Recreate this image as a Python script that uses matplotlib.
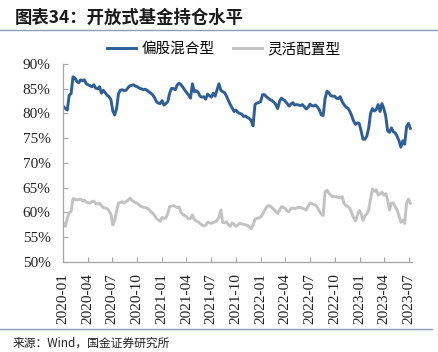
import matplotlib

matplotlib.use("Agg")
import matplotlib.dates as mdates
import matplotlib.pyplot as plt
import pandas as pd
from matplotlib.lines import Line2D
from matplotlib.ticker import FuncFormatter, MultipleLocator

# weekly readings, first Friday of 2020 onwards
START = "2020-01-03"

equity_mixed = [
    81.4, 81.0, 80.7, 83.7, 84.0, 87.4, 87.2, 86.5, 86.2, 86.8,
    86.6, 86.8, 86.0, 85.8, 85.6, 85.4, 85.8, 85.1, 85.0, 85.4,
    84.1, 84.7, 84.2, 83.7, 83.4, 82.8, 80.5, 79.7, 81.0, 84.0,
    84.7, 84.8, 84.6, 84.7, 85.2, 85.6, 85.7, 85.8, 85.5, 85.4,
    85.1, 85.0, 84.8, 84.9, 84.7, 84.4, 84.1, 83.8, 83.2, 82.4,
    82.1, 82.0, 82.6, 81.7, 82.0, 82.4, 84.1, 85.1, 85.0, 84.8,
    85.8, 86.1, 85.8, 85.3, 84.7, 84.2, 83.7, 83.1, 86.0, 84.4,
    84.6, 84.3, 83.5, 83.3, 83.4, 82.9, 83.9, 83.6, 83.3, 84.1,
    83.5, 84.8, 86.0, 84.7, 84.4, 84.2, 83.5, 82.6, 81.8, 81.1,
    80.4, 80.7, 80.2, 80.0, 79.9, 79.4, 79.5, 79.2, 79.0, 78.6,
    77.5, 81.8, 82.1, 82.2, 82.4, 83.8, 83.8, 83.4, 83.1, 82.8,
    82.6, 82.3, 81.8, 81.0, 82.5, 83.1, 82.8, 82.5, 82.0, 81.5,
    81.9, 82.2, 81.7, 81.8, 81.7, 81.6, 81.8, 81.4, 80.9, 81.2,
    81.9, 81.6, 81.5, 81.7, 81.3, 80.7, 79.7, 79.6, 83.0, 84.5,
    84.2, 83.6, 83.5, 83.5, 83.1, 83.0, 83.4, 82.4, 81.8, 81.3,
    81.1, 80.5, 79.6, 78.5, 77.8, 78.1, 78.0, 76.5, 74.8, 74.8,
    75.4, 77.0, 80.0, 81.0, 80.5, 80.8, 81.8, 80.4, 82.0, 81.0,
    79.5, 76.5, 76.2, 77.1, 76.3, 76.1, 75.4, 74.5, 73.2, 74.5,
    73.8, 77.3, 78.0, 77.0,
]

flexible = [
    57.8, 57.2, 58.8, 60.0, 60.2, 62.8, 62.7, 62.5, 62.6, 62.7,
    62.3, 62.5, 62.1, 62.0, 61.9, 62.2, 62.3, 61.8, 61.7, 61.9,
    61.4, 61.0, 60.9, 60.8, 60.4, 59.6, 57.5, 58.4, 60.3, 61.9,
    62.0, 62.2, 61.9, 62.2, 62.5, 62.9, 62.5, 62.2, 62.0, 61.8,
    61.5, 61.2, 61.1, 61.0, 60.9, 60.6, 60.2, 59.9, 59.4, 58.8,
    58.5, 58.2, 59.0, 58.8, 58.9, 59.8, 61.2, 61.3, 61.4, 61.2,
    61.0, 61.1, 60.0, 59.6, 59.4, 59.1, 58.7, 58.8, 59.5, 58.6,
    58.3, 58.1, 57.8, 57.5, 57.3, 57.4, 58.0, 57.9, 57.8, 58.0,
    58.1, 58.4, 59.0, 60.5, 58.0, 57.9, 58.1, 57.5, 57.2, 57.9,
    57.6, 57.2, 57.5, 57.8, 57.7, 57.6, 57.5, 57.4, 57.1, 56.7,
    57.5, 58.6, 58.8, 58.9, 59.1, 59.6, 60.4, 61.0, 61.4, 61.3,
    61.0, 60.6, 60.2, 59.8, 60.5, 61.2, 61.0, 60.8, 60.3, 60.2,
    60.8, 60.9, 60.8, 60.9, 61.0, 61.0, 60.9, 60.7, 60.5, 61.2,
    61.9, 61.8, 61.6, 61.5, 61.0, 60.2, 59.7, 59.4, 64.2, 64.5,
    63.9, 63.5, 63.2, 63.2, 63.2, 63.0, 63.0, 63.2, 61.8, 61.4,
    61.2, 60.9, 60.0, 59.0, 58.3, 59.4, 60.4, 59.8, 58.4, 59.3,
    59.7, 60.5, 62.8, 64.7, 64.3, 64.6, 63.5, 63.8, 64.1, 63.5,
    63.8, 62.6, 60.5, 61.9, 61.9, 61.2, 60.5, 59.3, 58.0, 58.5,
    57.8, 61.9, 62.7, 61.9,
]

series_names = ["偏股混合型", "灵活配置型"]
series_colors = ["#2f5e96", "#c2c2c2"]

dates = pd.date_range(START, periods=len(equity_mixed), freq="7D")

cjk = ["Noto Sans CJK SC", "DejaVu Sans"]
serif = ["Liberation Serif", "DejaVu Serif"]

fig = plt.figure(figsize=(4.38, 3.52), dpi=100)
ax = fig.add_axes([0.1438, 0.2557, 0.7968, 0.5625])

for values, name, color in zip([equity_mixed, flexible], series_names, series_colors):
    ax.plot(dates, values, color=color, lw=2.1, label=name, solid_joinstyle="round")

ax.set_ylim(50, 90)
ax.set_xlim(pd.Timestamp("2020-01-01"), pd.Timestamp("2023-07-13"))
ax.yaxis.set_major_locator(MultipleLocator(5))
ax.yaxis.set_major_formatter(FuncFormatter(lambda v, _: f"{v:.0f}%"))
ax.xaxis.set_major_locator(mdates.MonthLocator(bymonth=[1, 4, 7, 10]))
ax.xaxis.set_major_formatter(mdates.DateFormatter("%Y-%m"))

for side in ["top", "right"]:
    ax.spines[side].set_visible(False)
for side in ["left", "bottom"]:
    ax.spines[side].set_color("#a6a6a6")
    ax.spines[side].set_linewidth(0.9)

ax.tick_params(axis="both", direction="in", length=3.5, width=0.8, color="#a6a6a6",
               labelcolor="#222222")
ax.tick_params(axis="y", pad=9)
ax.tick_params(axis="x", pad=8, rotation=90)
for lbl in ax.get_xticklabels() + ax.get_yticklabels():
    lbl.set_family(serif)
    lbl.set_fontsize(11)

fig.legend(loc="center", bbox_to_anchor=(0.511, 0.861), ncol=2, frameon=False,
           prop={"family": cjk, "size": 10.5}, handlelength=2.0, handletextpad=0.35,
           columnspacing=1.3, borderaxespad=0)

fig.text(0.034, 0.948, "图表34：开放式基金持仓水平", family=cjk, fontsize=12.5,
         fontweight="bold", color="#1a1a1a", va="center", ha="left")
fig.text(0.029, 0.026, "来源：Wind，国金证券研究所", family=cjk, fontsize=8.5,
         color="#222222", va="center", ha="left")

fig.add_artist(Line2D([0, 1], [0.914, 0.914], transform=fig.transFigure,
                      color="#8aa0b5", lw=1.0))
fig.add_artist(Line2D([0, 0.986], [0.064, 0.064], transform=fig.transFigure,
                      color="#8aa0b5", lw=1.0))

fig.savefig("out.png", dpi=100)
